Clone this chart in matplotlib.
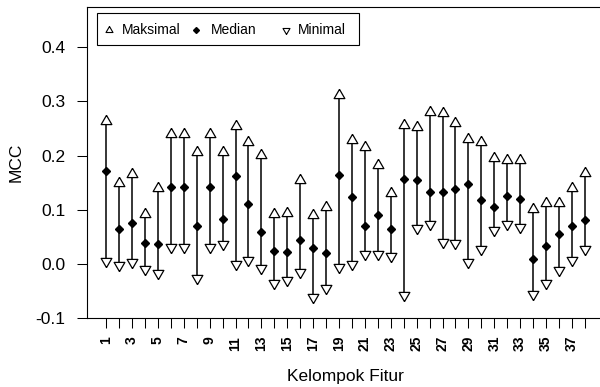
import matplotlib
matplotlib.use("Agg")
import matplotlib.pyplot as plt
from matplotlib.lines import Line2D
from matplotlib.patches import Rectangle
import numpy as np

plt.rcParams['font.family'] = ['Liberation Sans', 'DejaVu Sans']

# data
kelompok = np.arange(1, 39)
maksimal = [0.263, 0.150, 0.166, 0.093, 0.140, 0.239, 0.239, 0.206, 0.239, 0.206,
            0.255, 0.225, 0.202, 0.093, 0.094, 0.155, 0.091, 0.106, 0.311, 0.229,
            0.216, 0.183, 0.131, 0.257, 0.252, 0.280, 0.279, 0.261, 0.231, 0.225,
            0.196, 0.192, 0.192, 0.102, 0.113, 0.113, 0.141, 0.167]
median = [0.172, 0.064, 0.075, 0.039, 0.037, 0.143, 0.143, 0.071, 0.143, 0.083,
          0.163, 0.110, 0.059, 0.024, 0.022, 0.045, 0.029, 0.021, 0.164, 0.123,
          0.071, 0.090, 0.064, 0.157, 0.155, 0.132, 0.132, 0.139, 0.147, 0.118,
          0.105, 0.125, 0.120, 0.010, 0.034, 0.055, 0.071, 0.082]
minimal = [0.006, -0.002, 0.004, -0.009, -0.016, 0.031, 0.031, -0.026, 0.032, 0.037,
           0.001, 0.007, -0.008, -0.034, -0.030, -0.014, -0.060, -0.045, -0.005, 0.001,
           0.018, 0.018, 0.015, -0.057, 0.067, 0.073, 0.041, 0.039, 0.004, 0.027,
           0.063, 0.074, 0.069, -0.056, -0.034, -0.011, 0.007, 0.028]
y_ticks = [-0.1, 0.0, 0.1, 0.2, 0.3, 0.4]
x_labels = [str(k) if k % 2 == 1 else '' for k in kelompok]
legend_labels = ['Maksimal', 'Median', 'Minimal']

W, H = 600, 387

# triangles with the centroid on the value (like R pch=2 / pch=6)
tri_up = [(0, 1), (-0.866, -0.5), (0.866, -0.5), (0, 1)]
tri_down = [(0, -1), (-0.866, 0.5), (0.866, 0.5), (0, -1)]


def px(x, y):
    # pixel position (top-left origin) -> figure fraction
    return x / W, 1 - y / H


fig = plt.figure(figsize=(W / 100, H / 100), dpi=100)
ax = fig.add_axes([87 / W, (H - 318.3) / H, 517 / W, 311.3 / H])

ax.vlines(kelompok, minimal, maksimal, color='black', lw=1.1, zorder=2)
ax.plot(kelompok, maksimal, ls='none', marker=tri_up, ms=8.9, mfc='white',
        mec='black', mew=0.9, zorder=3)
ax.plot(kelompok, median, ls='none', marker='D', ms=3.6, color='black', zorder=3)
ax.plot(kelompok, minimal, ls='none', marker=tri_down, ms=8.9, mfc='white',
        mec='black', mew=0.9, zorder=3)

ax.set_xlim(-0.48, 39.48)
ax.set_ylim(-0.0995, 0.474)

ax.set_xticks(kelompok)
ax.set_xticklabels(x_labels, rotation=90, fontweight='bold', fontsize=10, va='top')
ax.set_yticks(y_ticks)
ax.set_yticklabels(['%.1f' % v for v in y_ticks], fontsize=12.5)
ax.tick_params(axis='both', direction='out', length=7.2, width=0.75, color='black')
ax.tick_params(axis='x', pad=5.5)
ax.tick_params(axis='y', pad=8.5)
for s in ax.spines.values():
    s.set_linewidth(0.8)

ax.set_xlabel('Kelompok Fitur', fontsize=12.5)
ax.set_ylabel('MCC', fontsize=12.5)
ax.xaxis.set_label_coords(0.5, -0.163)
ax.yaxis.set_label_coords(-0.122, 0.5)

# legend box, drawn by hand to keep R's equal-width columns
x0, y0 = px(96.7, 45)
x1, y1 = px(359, 13.3)
fig.add_artist(Rectangle((x0, y0), x1 - x0, y1 - y0, transform=fig.transFigure,
                         facecolor='white', edgecolor='black', lw=0.8, zorder=5))
leg_marks = [dict(marker=tri_up, ms=5.8, mfc='white', mec='black', mew=0.8),
             dict(marker='D', ms=3.0, color='black'),
             dict(marker=tri_down, ms=5.8, mfc='white', mec='black', mew=0.8)]
mark_x = [109, 196, 285.7]
text_x = [122, 210.7, 298]
for lab, mk, mx, tx in zip(legend_labels, leg_marks, mark_x, text_x):
    fx, fy = px(mx, 29.5)
    fig.add_artist(Line2D([fx], [fy], ls='none', transform=fig.transFigure,
                          zorder=6, **mk))
    fx, fy = px(tx, 29.5)
    fig.text(fx, fy, lab, fontsize=10, ha='left', va='center', zorder=6)

fig.savefig('out.png', dpi=100)
